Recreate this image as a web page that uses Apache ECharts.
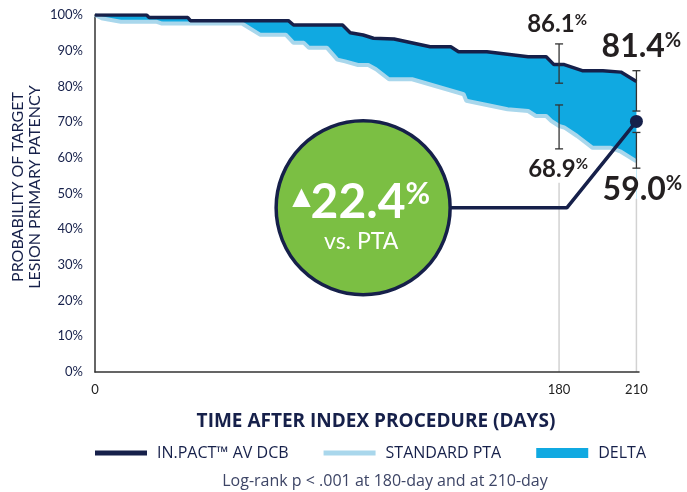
<!DOCTYPE html>
<html>
<head>
<meta charset="utf-8">
<script src="https://cdn.jsdelivr.net/npm/echarts@6/dist/echarts.min.js"></script>
<style>
  html, body { margin: 0; padding: 0; background: #fff; }
  #chart { width: 687px; height: 492px; }
</style>
</head>
<body>
<div id="chart"></div>
<script>
// km curves (days, % patency)
const dcbDays = [0, 20, 21, 36, 37, 75, 77, 96, 99, 104, 108, 116, 130, 138, 141, 152, 168, 175, 178, 182, 189, 197, 204, 210];
const dcbPct  = [100, 100, 99.3, 99.3, 98.4, 98.4, 97.2, 97.2, 95.0, 94.4, 93.5, 93.3, 91.1, 91.1, 89.7, 89.7, 88.3, 88.3, 86.1, 86.1, 84.4, 84.4, 84.0, 81.4];

const ptaDays = [0, 3, 10, 24, 26, 57, 64, 74, 77, 81, 83, 90, 94, 97, 102, 106, 109, 114, 123, 143, 144, 160, 168, 171, 175, 177, 180, 182, 187, 193, 200, 204, 210];
const ptaPct  = [100, 99, 98.1, 98.1, 97.6, 97.6, 94.5, 94.5, 92.2, 92.2, 90.8, 90.8, 87.5, 87.0, 86.0, 86.0, 84.8, 82.0, 82.0, 77.8, 76.0, 73.6, 73.1, 71.7, 71.7, 70.3, 68.9, 68.5, 66.1, 62.8, 62.8, 61.7, 59.0];

// confidence brackets [day, low, high]
const ciBars = [[180, 80.9, 91.9], [180, 62.5, 74.8], [210, 73.1, 84.4], [210, 57.1, 67.1]];
// grey guide lines [day, from, to]
const guideLines = [[180, 0, 53], [210, 0, 48.5]];

const xLabels = [0, 180, 210];
const yTicks = 10;

const seriesNames = ['IN.PACT™ AV DCB', 'STANDARD PTA', 'DELTA'];
const callouts = [
  {day: 180, pct: 86.1, text: '86.1', big: false, offset: [-2, -40]},
  {day: 210, pct: 81.4, text: '81.4', big: true, offset: [5, -35]},
  {day: 180, pct: 68.9, text: '68.9', big: false, offset: [-1, 43]},
  {day: 210, pct: 59.0, text: '59.0', big: true, offset: [6, 28]},
];
const diffText = '22.4';
const diffPoint = [210, 70.2];
const bubble = [104, 46];
const connector = [[125, 46], [183, 46], diffPoint];

const NAVY = '#16204a';
const LIGHT = '#a9d7ec';
const DELTA = '#10a9e1';
const GREEN = '#7bbf43';
const FONT = 'Lato, "Open Sans", sans-serif';
const WIDE = '"Open Sans", Lato, sans-serif';

const zip = (a, b) => a.map((v, i) => [v, b[i]]);
const dcb = zip(dcbDays, dcbPct);
const pta = zip(ptaDays, ptaPct);

function vbar(color, width, caps) {
  return function (params, api) {
    const x = api.value(0);
    const p1 = api.coord([x, api.value(1)]);
    const p2 = api.coord([x, api.value(2)]);
    const style = {stroke: color, lineWidth: width};
    const kids = [{type: 'line', shape: {x1: p1[0], y1: p1[1], x2: p2[0], y2: p2[1]}, style}];
    if (caps) {
      kids.push({type: 'line', shape: {x1: p1[0] - 4, y1: p1[1], x2: p1[0] + 4, y2: p1[1]}, style});
      kids.push({type: 'line', shape: {x1: p2[0] - 4, y1: p2[1], x2: p2[0] + 4, y2: p2[1]}, style});
    }
    return {type: 'group', children: kids};
  };
}

const lineIcon = 'path://M0,0H52V5H0Z';

const chart = echarts.init(document.getElementById('chart'));

chart.setOption({
  animation: false,
  textStyle: {fontFamily: FONT},
  grid: {left: 95, right: 48, top: 15, bottom: 120, outerBoundsMode: 'none'},
  xAxis: {
    type: 'value', min: 0, max: 211, z: 3,
    axisLine: {show: true, lineStyle: {color: '#333', width: 1.5}},
    axisTick: {show: false},
    splitLine: {show: false},
    axisLabel: {customValues: xLabels, color: '#222', fontSize: 13, margin: 11, fontFamily: FONT},
    name: 'TIME AFTER INDEX PROCEDURE (DAYS)',
    nameLocation: 'middle',
    nameGap: 40,
    nameTextStyle: {color: NAVY, fontSize: 19, fontWeight: 'bold', fontFamily: WIDE, padding: [0, 0, 0, 18]},
  },
  yAxis: {
    type: 'value', min: 0, max: 100, interval: yTicks, z: 3,
    axisLine: {show: true, lineStyle: {color: '#333', width: 1.5}},
    axisTick: {show: false},
    splitLine: {show: false},
    axisLabel: {formatter: '{value}%', color: NAVY, fontSize: 13, margin: 12, fontFamily: FONT},
    name: 'PROBABILITY OF TARGET\nLESION PRIMARY PATENCY',
    nameLocation: 'middle',
    nameGap: 52,
    nameRotate: 90,
    nameMoveOverlap: false,
    nameTextStyle: {color: NAVY, fontSize: 16, lineHeight: 17, fontFamily: FONT, padding: [0, 0, 0, 13]},
  },
  legend: {
    top: 445, left: 95, padding: 0,
    itemWidth: 52, itemHeight: 10, itemGap: 35,
    textStyle: {color: NAVY, fontSize: 16, fontFamily: WIDE, padding: [0, 0, 0, 5]},
    data: [
      {name: seriesNames[0], icon: lineIcon},
      {name: seriesNames[1], icon: lineIcon},
      {name: seriesNames[2], icon: 'rect'},
    ],
  },
  graphic: [{
    type: 'text', x: 385, y: 481,
    style: {text: 'Log-rank p < .001 at 180-day and at 210-day', fill: '#3d4566', font: '16px ' + WIDE, textAlign: 'center', textVerticalAlign: 'middle'},
  }],
  series: [
    {
      name: seriesNames[2], type: 'line', data: dcb, symbol: 'none', z: 1,
      lineStyle: {width: 0}, itemStyle: {color: DELTA},
      areaStyle: {color: DELTA, opacity: 1},
    },
    {
      name: 'mask', type: 'line', data: pta, symbol: 'none', silent: true, z: 2,
      lineStyle: {width: 0}, itemStyle: {color: '#fff'},
      areaStyle: {color: '#fff', opacity: 1},
    },
    {type: 'custom', data: guideLines, renderItem: vbar('#d2d2d2', 1.5, false), silent: true, z: 3},
    {
      name: seriesNames[1], type: 'line', data: pta, symbol: 'none', z: 4,
      lineStyle: {width: 4, color: LIGHT}, itemStyle: {color: LIGHT},
    },
    {
      name: seriesNames[0], type: 'line', data: dcb, symbol: 'none', z: 5,
      lineStyle: {width: 3.5, color: NAVY}, itemStyle: {color: NAVY},
    },
    {type: 'custom', data: ciBars, renderItem: vbar('#333', 1.3, true), silent: true, z: 6},
    {
      type: 'line', data: connector, symbol: 'none', silent: true, z: 7,
      lineStyle: {width: 3.5, color: NAVY},
    },
    {
      type: 'scatter', data: [bubble], symbolSize: 174, silent: true, z: 8,
      itemStyle: {color: GREEN, borderColor: NAVY, borderWidth: 3.5, opacity: 1},
      label: {
        show: true, position: 'inside', offset: [-2, 11],
        formatter: '{tri|▲}{big|' + diffText + '}{pct|%}\n{sub|vs. PTA}',
        rich: {
          tri: {color: '#fff', fontSize: 24, verticalAlign: 'top', fontFamily: '"DejaVu Sans"', lineHeight: 46, padding: [6, 0, 0, 0]},
          big: {color: '#fff', fontSize: 48, fontWeight: 'bold', fontFamily: FONT, lineHeight: 46},
          pct: {color: '#fff', fontSize: 30, fontWeight: 'bold', verticalAlign: 'top', fontFamily: FONT, lineHeight: 46},
          sub: {color: '#fff', fontSize: 23, fontFamily: FONT, lineHeight: 32, align: 'center'},
        },
      },
    },
    {
      type: 'scatter', data: [diffPoint], symbolSize: 13, silent: true, z: 9,
      itemStyle: {color: NAVY, opacity: 1},
    },
    {
      type: 'scatter', symbolSize: 0, silent: true, z: 10,
      itemStyle: {opacity: 1},
      data: callouts.map(c => ({
        value: [c.day, c.pct],
        label: {
          show: true, position: 'inside', offset: c.offset,
          formatter: '{' + (c.big ? 'nb' : 'ns') + '|' + c.text + '}{' + (c.big ? 'pb' : 'ps') + '|%}',
        },
      })),
      label: {
        rich: {
          ns: {color: '#231f20', fontSize: 24, fontWeight: 'bold', fontFamily: FONT},
          ps: {color: '#231f20', fontSize: 15, fontWeight: 'bold', verticalAlign: 'top', fontFamily: FONT},
          nb: {color: '#231f20', fontSize: 32, fontWeight: 'bold', fontFamily: FONT},
          pb: {color: '#231f20', fontSize: 20, fontWeight: 'bold', verticalAlign: 'top', fontFamily: FONT},
        },
      },
    },
  ],
});
</script>
</body>
</html>
